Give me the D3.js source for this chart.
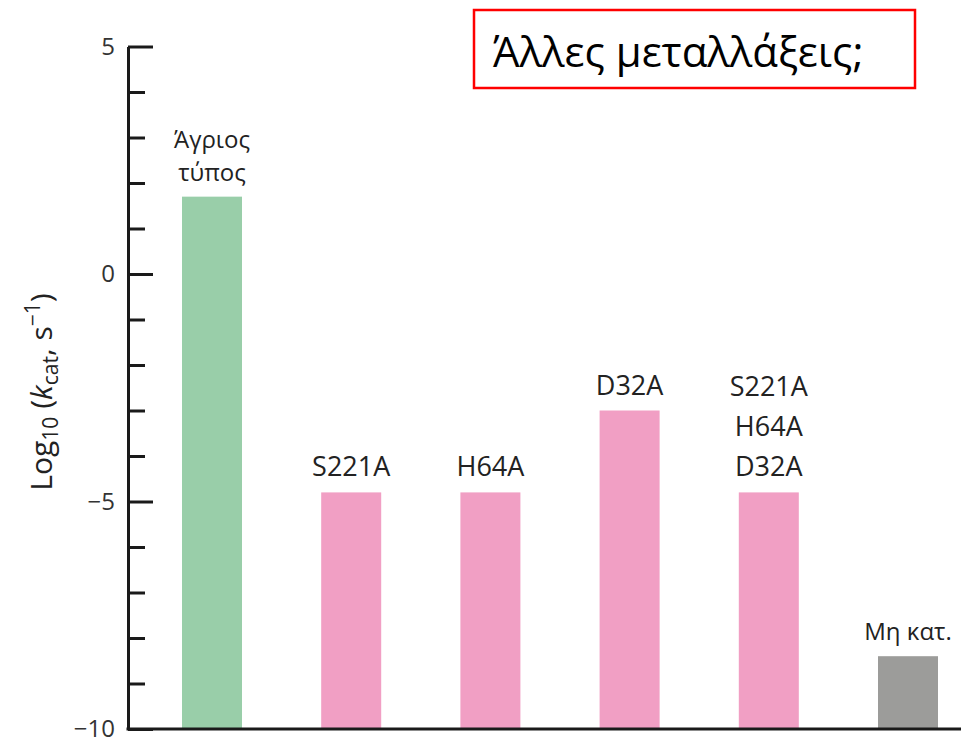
<!DOCTYPE html>
<html>
<head>
<meta charset="utf-8">
<script src="https://cdn.jsdelivr.net/npm/d3@7"></script>
<style>
  body { margin: 0; background: #fff; }
  text { font-family: "Open Sans", "Noto Sans", sans-serif; }
</style>
</head>
<body>
<svg id="chart" width="961" height="744"></svg>
<script>
// data
const categories = ["wt", "S221A", "H64A", "D32A", "triple", "uncat"];
const values = [1.7, -4.8, -4.8, -3.0, -4.8, -8.4];
const labels = [["Άγριος", "τύπος"], ["S221A"], ["H64A"], ["D32A"], ["S221A", "H64A", "D32A"], ["Μη κατ."]];
const barColors = ["#99cea9", "#f19fc4", "#f19fc4", "#f19fc4", "#f19fc4", "#9c9c9a"];
const majorTicks = [5, 0, -5, -10];
const minorTicks = d3.range(-10, 6).filter(d => d % 5 !== 0);

const svg = d3.select("#chart");
const axisX = 128;

const y = d3.scaleLinear().domain([-10, 5]).range([729, 46.5]);
const x = d3.scalePoint().domain(categories).range([212, 908]);
const barW = 60;

// bars
svg.selectAll("rect.bar")
    .data(categories)
    .enter()
    .append("rect")
    .attr("class", "bar")
    .attr("x", d => x(d) - barW / 2)
    .attr("width", barW)
    .attr("y", (d, i) => y(values[i]))
    .attr("height", (d, i) => y(-10) - y(values[i]))
    .attr("fill", (d, i) => barColors[i]);

// labels above bars
const lineH = [33, 40, 40, 40, 40, 33];
const fontS = [24, 27, 27, 27, 27, 24];
categories.forEach((c, i) => {
    const lines = labels[i];
    const base = y(values[i]) - 16;
    lines.forEach((t, j) => {
        svg.append("text")
            .attr("x", x(c))
            .attr("y", base - (lines.length - 1 - j) * lineH[i])
            .attr("text-anchor", "middle")
            .attr("font-size", fontS[i])
            .attr("font-weight", i > 0 && i < 5 ? 500 : 400)
            .attr("fill", "#222")
            .text(t);
    });
});

// y axis: minor ticks
const gMinor = svg.append("g")
    .attr("transform", `translate(${axisX},0)`)
    .call(d3.axisLeft(y).tickValues(minorTicks).tickSize(-17).tickFormat(""));
gMinor.select(".domain").remove();
gMinor.selectAll("line").attr("stroke", "#1a1a1a").attr("stroke-width", 3);

// y axis: major ticks + labels
const gMajor = svg.append("g")
    .attr("transform", `translate(${axisX},0)`)
    .call(d3.axisLeft(y).tickValues(majorTicks).tickSize(-25).tickSizeOuter(0).tickPadding(13));
gMajor.select(".domain").attr("stroke", "#1a1a1a").attr("stroke-width", 3);
gMajor.selectAll("line").attr("stroke", "#1a1a1a").attr("stroke-width", 3);
gMajor.selectAll("text")
    .attr("font-size", 24)
    .attr("fill", "#333")
    .attr("font-family", "'Open Sans', 'Noto Sans', sans-serif");

// baseline
svg.append("line")
    .attr("x1", axisX - 1.5).attr("x2", 961)
    .attr("y1", y(-10)).attr("y2", y(-10))
    .attr("stroke", "#1a1a1a").attr("stroke-width", 3);

// y title
const yt = svg.append("text")
    .attr("transform", "translate(52,392) rotate(-90)")
    .attr("text-anchor", "middle")
    .attr("font-size", 30)
    .attr("font-weight", 500)
    .attr("fill", "#222");
yt.append("tspan").text("Log");
yt.append("tspan").attr("font-size", 21).attr("dy", 6).text("10");
yt.append("tspan").attr("dy", -6).text(" (");
yt.append("tspan").attr("font-style", "italic").text("k");
yt.append("tspan").attr("font-size", 21).attr("dy", 6).text("cat");
yt.append("tspan").attr("dy", -6).text(", s");
yt.append("tspan").attr("font-size", 21).attr("dy", -12).text("−1");
yt.append("tspan").attr("dy", 12).text(")");

// title box
svg.append("rect")
    .attr("x", 474).attr("y", 10)
    .attr("width", 441).attr("height", 78)
    .attr("fill", "none")
    .attr("stroke", "#ff0000")
    .attr("stroke-width", 2.5);
svg.append("text")
    .attr("x", 493).attr("y", 67)
    .attr("font-size", 42)
    .attr("fill", "#000")
    .attr("font-family", "'Noto Sans', sans-serif")
    .text("Άλλες μεταλλάξεις;");
</script>
</body>
</html>
